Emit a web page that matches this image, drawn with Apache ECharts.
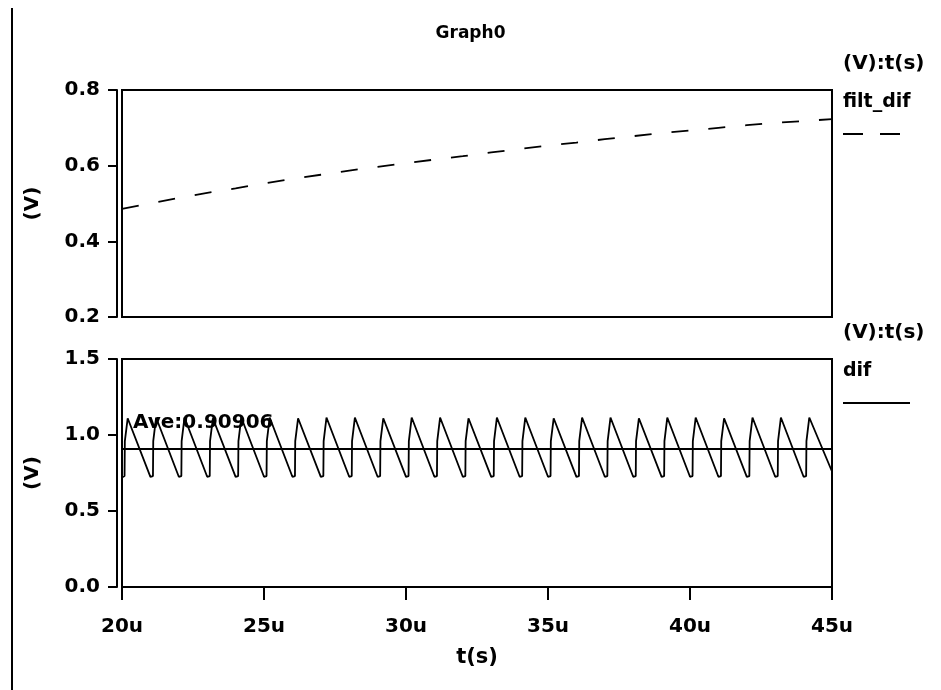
<!DOCTYPE html>
<html>
<head>
<meta charset="utf-8">
<title>Graph0</title>
<script src="https://cdn.jsdelivr.net/npm/echarts@6/dist/echarts.min.js"></script>
<style>
  html, body { margin: 0; padding: 0; background: #fff; }
  #graph0 { width: 941px; height: 690px; }
</style>
</head>
<body>
<div id="graph0"></div>
<script>
// filt_dif (top panel)
var filtTime = [20, 21, 22, 23, 24, 25, 26, 27, 28, 29, 30, 31, 32, 33, 34, 35, 36, 37, 38, 39, 40, 41, 42, 43, 44, 45];
var filtVal = [0.486, 0.500, 0.515, 0.528, 0.540, 0.553, 0.565, 0.576, 0.587, 0.597, 0.607, 0.616, 0.625,
               0.635, 0.644, 0.653, 0.661, 0.670, 0.678, 0.686, 0.693, 0.700, 0.707, 0.713, 0.718, 0.723];

// dif (bottom panel), sawtooth corners: trough, foot of the jump, top of the jump, peak
var difTime = [
  20, 20.09, 20.1, 20.2,
  21, 21.09, 21.1, 21.2,
  22, 22.09, 22.1, 22.2,
  23, 23.09, 23.1, 23.2,
  24, 24.09, 24.1, 24.2,
  25, 25.09, 25.1, 25.2,
  26, 26.09, 26.1, 26.2,
  27, 27.09, 27.1, 27.2,
  28, 28.09, 28.1, 28.2,
  29, 29.09, 29.1, 29.2,
  30, 30.09, 30.1, 30.2,
  31, 31.09, 31.1, 31.2,
  32, 32.09, 32.1, 32.2,
  33, 33.09, 33.1, 33.2,
  34, 34.09, 34.1, 34.2,
  35, 35.09, 35.1, 35.2,
  36, 36.09, 36.1, 36.2,
  37, 37.09, 37.1, 37.2,
  38, 38.09, 38.1, 38.2,
  39, 39.09, 39.1, 39.2,
  40, 40.09, 40.1, 40.2,
  41, 41.09, 41.1, 41.2,
  42, 42.09, 42.1, 42.2,
  43, 43.09, 43.1, 43.2,
  44, 44.09, 44.1, 44.2,
  45
];
var difVal = [
  0.72, 0.73, 0.96, 1.11,
  0.725, 0.73, 0.96, 1.115,
  0.725, 0.73, 0.96, 1.115,
  0.725, 0.73, 0.96, 1.11,
  0.725, 0.73, 0.96, 1.115,
  0.725, 0.73, 0.96, 1.115,
  0.725, 0.73, 0.96, 1.11,
  0.725, 0.73, 0.96, 1.115,
  0.725, 0.73, 0.96, 1.115,
  0.725, 0.73, 0.96, 1.11,
  0.725, 0.73, 0.96, 1.115,
  0.725, 0.73, 0.96, 1.115,
  0.725, 0.73, 0.96, 1.11,
  0.725, 0.73, 0.96, 1.115,
  0.725, 0.73, 0.96, 1.115,
  0.725, 0.73, 0.96, 1.11,
  0.725, 0.73, 0.96, 1.115,
  0.725, 0.73, 0.96, 1.115,
  0.725, 0.73, 0.96, 1.11,
  0.725, 0.73, 0.96, 1.115,
  0.725, 0.73, 0.96, 1.115,
  0.725, 0.73, 0.96, 1.11,
  0.725, 0.73, 0.96, 1.115,
  0.725, 0.73, 0.96, 1.115,
  0.725, 0.73, 0.96, 1.115,
  0.76
];
var difAve = 0.90906;

var xTicks = { min: 20, max: 45, step: 5 };
var topTicks = { min: 0.2, max: 0.8, step: 0.2 };
var bottomTicks = { min: 0, max: 1.5, step: 0.5 };

var FONT = 'DejaVu Sans';
var INK = '#000';

function pairs(xs, ys) {
    return xs.map(function (x, i) { return [x, ys[i]]; });
}

function yAxisFor(grid, ticks) {
    return {
        gridIndex: grid,
        type: 'value',
        min: ticks.min,
        max: ticks.max,
        interval: ticks.step,
        offset: 5,
        name: '(V)',
        nameLocation: 'middle',
        nameRotate: 90,
        nameGap: 74,
        nameTextStyle: { color: INK, fontFamily: FONT, fontWeight: 'bold', fontSize: 20 },
        axisLine: { show: true, lineStyle: { color: INK, width: 2 } },
        axisTick: { show: true, length: 9, lineStyle: { color: INK, width: 2 } },
        axisLabel: {
            margin: 17,
            color: INK,
            fontFamily: FONT,
            fontWeight: 'bold',
            fontSize: 20,
            formatter: function (v) { return v.toFixed(1); }
        },
        splitLine: { show: false }
    };
}

var option = {
    backgroundColor: '#fff',
    animation: false,
    title: {
        text: 'Graph0',
        left: 'center',
        top: 20,
        textStyle: { color: INK, fontFamily: FONT, fontWeight: 'bold', fontSize: 17 }
    },
    grid: [
        { left: 122, top: 90, width: 710, height: 227, show: true, borderColor: INK, borderWidth: 2 },
        { left: 122, top: 359, width: 710, height: 228, show: true, borderColor: INK, borderWidth: 2 }
    ],
    xAxis: [
        { gridIndex: 0, type: 'value', min: xTicks.min, max: xTicks.max, interval: xTicks.step, show: false },
        {
            gridIndex: 1,
            type: 'value',
            min: xTicks.min,
            max: xTicks.max,
            interval: xTicks.step,
            offset: 5,
            name: 't(s)',
            nameLocation: 'middle',
            nameGap: 55,
            nameTextStyle: { color: INK, fontFamily: FONT, fontWeight: 'bold', fontSize: 21 },
            axisLine: { show: true, lineStyle: { color: INK, width: 2 } },
            axisTick: { show: true, length: 13, lineStyle: { color: INK, width: 2 } },
            axisLabel: {
                margin: 25,
                color: INK,
                fontFamily: FONT,
                fontWeight: 'bold',
                fontSize: 20,
                formatter: function (v) { return v + 'u'; }
            },
            splitLine: { show: false }
        }
    ],
    yAxis: [yAxisFor(0, topTicks), yAxisFor(1, bottomTicks)],
    series: [
        {
            name: 'filt_dif',
            type: 'line',
            xAxisIndex: 0,
            yAxisIndex: 0,
            showSymbol: false,
            lineStyle: { color: INK, width: 1.8, type: [17, 20] },
            data: pairs(filtTime, filtVal)
        },
        {
            name: 'dif',
            type: 'line',
            xAxisIndex: 1,
            yAxisIndex: 1,
            showSymbol: false,
            lineStyle: { color: INK, width: 1.8 },
            data: pairs(difTime, difVal),
            markLine: {
                silent: true,
                symbol: 'none',
                lineStyle: { color: INK, width: 1.8, type: 'solid' },
                label: {
                    position: 'insideStartTop',
                    distance: [11, 16],
                    color: INK,
                    fontFamily: FONT,
                    fontWeight: 'bold',
                    fontSize: 20,
                    formatter: 'Ave:' + difAve
                },
                data: [{ yAxis: difAve }]
            }
        }
    ],
    graphic: [
        // frame line on the far left
        { type: 'line', shape: { x1: 12, y1: 8, x2: 12, y2: 690 }, style: { stroke: INK, lineWidth: 2 } },
        // legend, top panel
        { type: 'text', left: 843, top: 54, style: { text: '(V):t(s)', fill: INK, font: 'bold 20px ' + FONT } },
        { type: 'text', left: 843, top: 93, style: { text: 'filt_dif', fill: INK, font: 'bold 19px ' + FONT } },
        { type: 'line', shape: { x1: 843, y1: 134, x2: 905, y2: 134 }, style: { stroke: INK, lineWidth: 2, lineDash: [20, 17] } },
        // legend, bottom panel
        { type: 'text', left: 843, top: 323, style: { text: '(V):t(s)', fill: INK, font: 'bold 20px ' + FONT } },
        { type: 'text', left: 843, top: 362, style: { text: 'dif', fill: INK, font: 'bold 19px ' + FONT } },
        { type: 'line', shape: { x1: 843, y1: 403, x2: 910, y2: 403 }, style: { stroke: INK, lineWidth: 2 } }
    ]
};

var myChart = echarts.init(document.getElementById('graph0'));
myChart.setOption(option);
</script>
</body>
</html>
